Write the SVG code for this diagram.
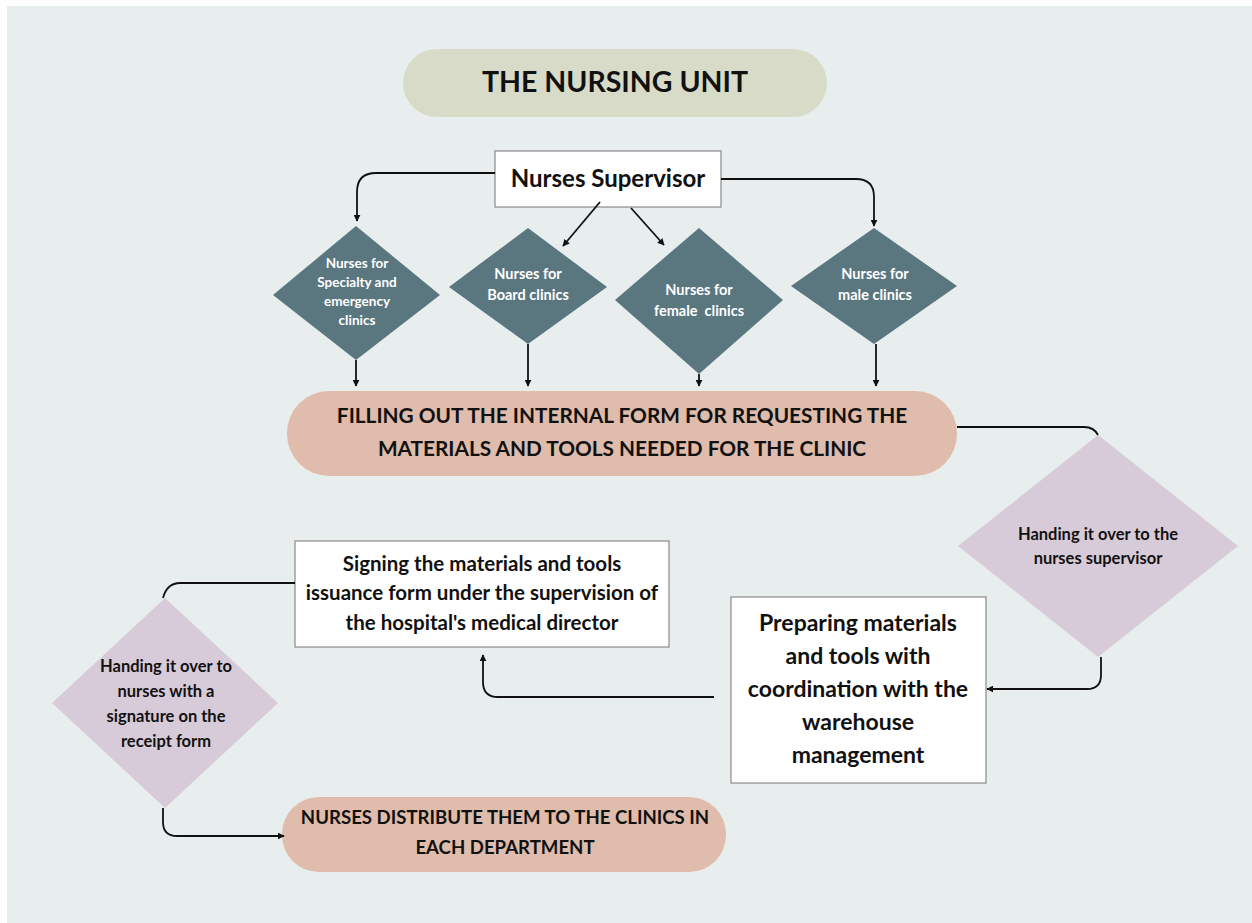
<svg xmlns="http://www.w3.org/2000/svg" width="1252" height="923" viewBox="0 0 1252 923">
  <style>
    .t { font-family: Lato, "Open Sans", "Liberation Sans", sans-serif; font-weight: bold; text-anchor: middle; fill: #111; }
    .w { fill: #ffffff; }
    .pill-title { fill: #d8dbc8; }
    .pill { fill: #dfbcab; }
    .box { fill: #ffffff; stroke: #8a8a8a; stroke-width: 1.2; }
    .dia { fill: #5a7780; }
    .dia2 { fill: #d8cbd9; }
    .c { fill: none; stroke: #111; stroke-width: 1.8; }
  </style>
  <defs>
    <marker id="ah" viewBox="0 0 10 10" refX="9" refY="5" markerWidth="7" markerHeight="7" markerUnits="userSpaceOnUse" orient="auto">
      <path d="M0,0 L10,5 L0,10 Z" fill="#111"/>
    </marker>
  </defs>

  <rect x="0" y="0" width="1252" height="923" fill="#ffffff"/>
  <rect x="7" y="6" width="1245" height="917" fill="#e8eeee"/>

  <g id="title">
    <rect class="pill-title" x="403" y="49" width="424" height="68" rx="34"/>
    <text class="t" x="615" y="92" font-size="28.5">THE NURSING UNIT</text>
  </g>

  <g id="supervisor">
    <rect class="box" x="495" y="151" width="226" height="56"/>
    <text class="t" x="608" y="187" font-size="24">Nurses Supervisor</text>
  </g>

  <g id="specialty">
    <polygon class="dia" points="356,226 440,295 356,360 273,295"/>
    <text class="t w" font-size="13.5"><tspan x="357" y="268">Nurses for</tspan><tspan x="357" y="287">Specialty and</tspan><tspan x="357" y="306">emergency</tspan><tspan x="357" y="325">clinics</tspan></text>
  </g>

  <g id="board">
    <polygon class="dia" points="528,228 607,287 528,344 449,287"/>
    <text class="t w" font-size="14.5"><tspan x="528" y="279">Nurses for</tspan><tspan x="528" y="300">Board clinics</tspan></text>
  </g>

  <g id="female">
    <polygon class="dia" points="699,228 783,300 699,374 615,300"/>
    <text class="t w" font-size="14.5" xml:space="preserve"><tspan x="699" y="295">Nurses for</tspan><tspan x="699" y="316">female  clinics</tspan></text>
  </g>

  <g id="male">
    <polygon class="dia" points="874,228 957,286 874,344 791,286"/>
    <text class="t w" font-size="14.5"><tspan x="875" y="279">Nurses for</tspan><tspan x="875" y="300">male clinics</tspan></text>
  </g>

  <g id="request-form">
    <rect class="pill" x="287" y="391" width="670" height="85" rx="42"/>
    <text class="t" font-size="20.8"><tspan x="622" y="423">FILLING OUT THE INTERNAL FORM FOR REQUESTING THE</tspan><tspan x="622" y="456">MATERIALS AND TOOLS NEEDED FOR THE CLINIC</tspan></text>
  </g>

  <g id="handover-supervisor">
    <polygon class="dia2" points="1098,435 1238,546 1098,657 958,546"/>
    <text class="t" font-size="16.5"><tspan x="1098" y="540">Handing it over to the</tspan><tspan x="1098" y="564">nurses supervisor</tspan></text>
  </g>

  <g id="preparing">
    <rect class="box" x="731" y="597" width="255" height="186"/>
    <text class="t" font-size="23"><tspan x="858" y="631">Preparing materials</tspan><tspan x="858" y="664">and tools with</tspan><tspan x="858" y="697">coordination with the</tspan><tspan x="858" y="730">warehouse</tspan><tspan x="858" y="763">management</tspan></text>
  </g>

  <g id="signing">
    <rect class="box" x="295" y="541" width="374" height="106"/>
    <text class="t" font-size="20.5"><tspan x="482" y="571">Signing the materials and tools</tspan><tspan x="482" y="600">issuance form under the supervision of</tspan><tspan x="482" y="630">the hospital's medical director</tspan></text>
  </g>

  <g id="handover-nurses">
    <polygon class="dia2" points="165,598 278,703 165,808 52,703"/>
    <text class="t" font-size="16.5"><tspan x="166" y="672">Handing it over to</tspan><tspan x="166" y="697">nurses with a</tspan><tspan x="166" y="722">signature on the</tspan><tspan x="166" y="747">receipt form</tspan></text>
  </g>

  <g id="distribute">
    <rect class="pill" x="282" y="797" width="444" height="75" rx="37"/>
    <text class="t" font-size="18.6"><tspan x="505" y="824">NURSES DISTRIBUTE THEM TO THE CLINICS IN</tspan><tspan x="505" y="854">EACH DEPARTMENT</tspan></text>
  </g>

  <g id="connectors">
    <path class="c" marker-end="url(#ah)" d="M495,173 H376 Q357,173 357,192 V221"/>
    <path class="c" marker-end="url(#ah)" d="M721,179 H856 Q874,179 874,197 V226"/>
    <path class="c" marker-end="url(#ah)" d="M600,202 L563,246"/>
    <path class="c" marker-end="url(#ah)" d="M631,208 L664,245"/>
    <path class="c" marker-end="url(#ah)" d="M356,360 V386"/>
    <path class="c" marker-end="url(#ah)" d="M528,344 V386"/>
    <path class="c" marker-end="url(#ah)" d="M699,374 V386"/>
    <path class="c" marker-end="url(#ah)" d="M876,344 V386"/>
    <path class="c" d="M957,427 H1084 Q1094,427 1098,435"/>
    <path class="c" marker-end="url(#ah)" d="M1101,657 V675 Q1101,689 1087,689 H987"/>
    <path class="c" marker-end="url(#ah)" d="M714,697 H498 Q483,697 483,682 V655"/>
    <path class="c" d="M295,583 H180 Q167,583 163,598"/>
    <path class="c" marker-end="url(#ah)" d="M163,808 V822 Q163,836 177,836 H284"/>
  </g>
</svg>
